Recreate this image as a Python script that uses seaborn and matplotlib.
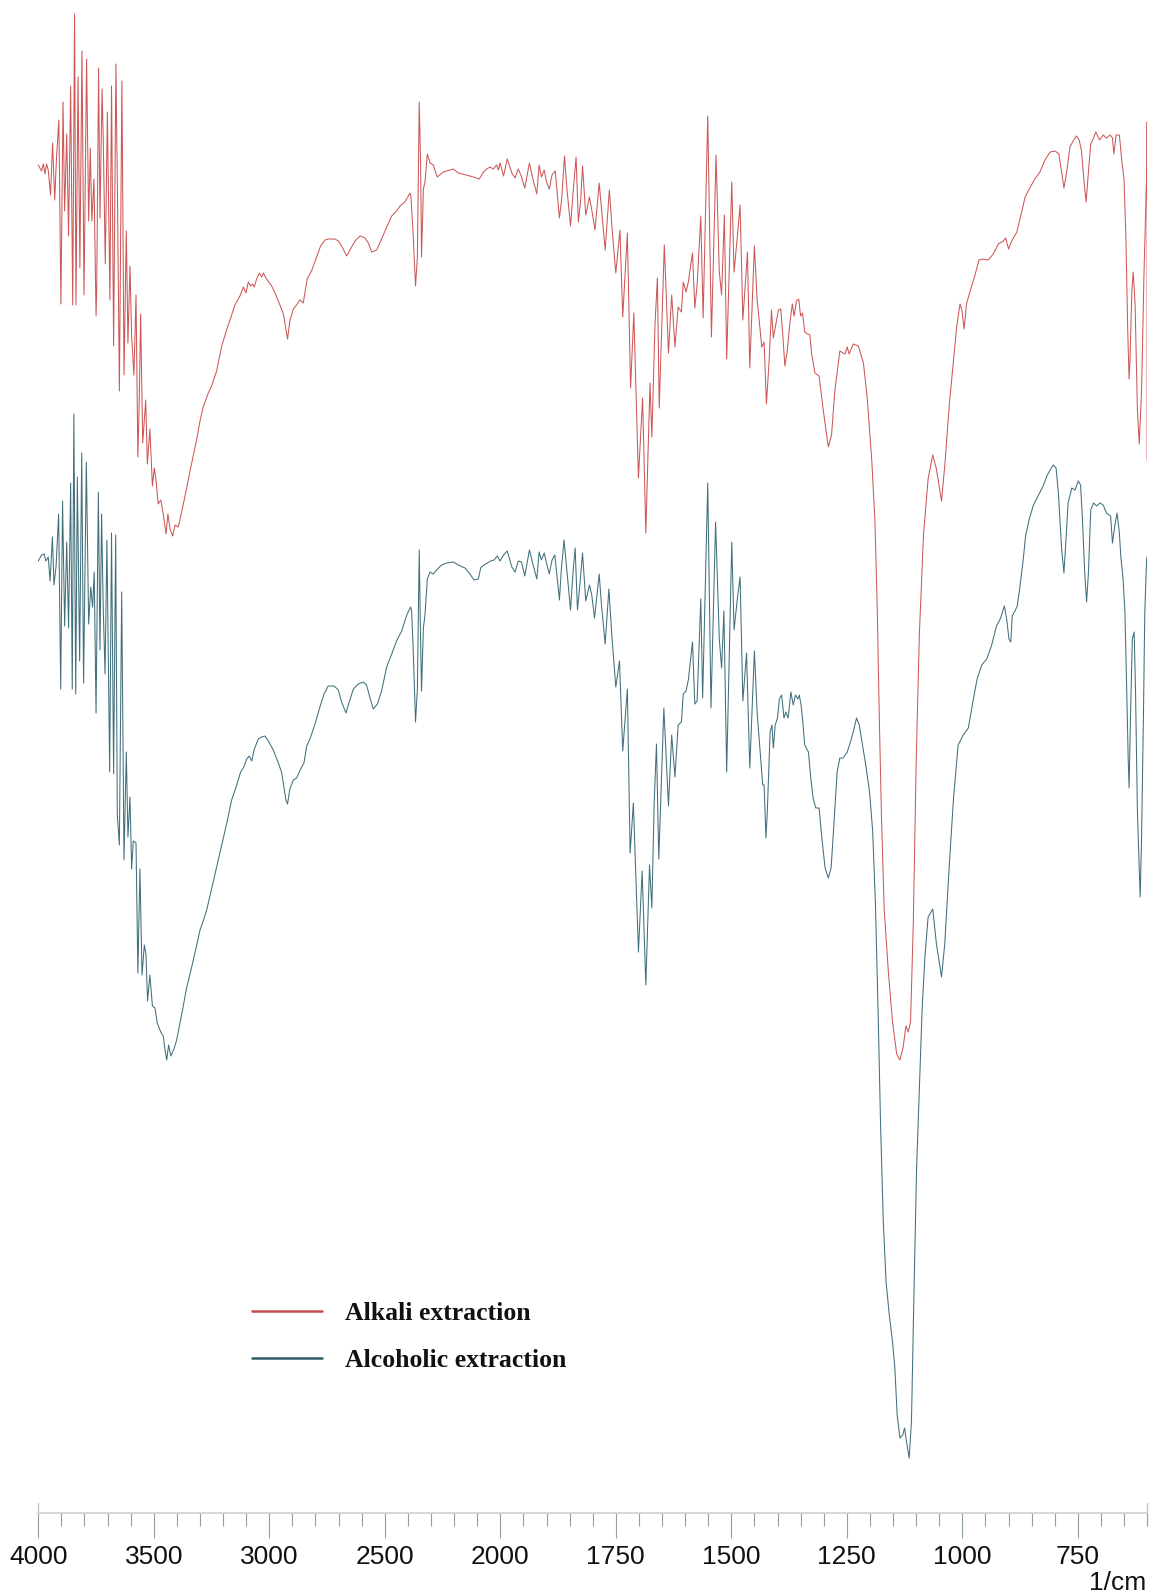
import numpy as np
import pandas as pd
import matplotlib
matplotlib.use("Agg")
import matplotlib.pyplot as plt
import seaborn as sns

# ---------------------------------------------------------------------------
# FTIR spectra: (wavenumber in 1/cm, transmittance in arbitrary stacked units)
# ---------------------------------------------------------------------------
alkali_high = [
    (4000, 135.2), (3986, 134.6), (3978, 135.3), (3971, 134.3), (3964, 135.3),
    (3957, 134.7), (3947, 132.2), (3938, 137.4), (3929, 131.7), (3921, 136.0),
    (3911, 139.7), (3902, 121.3), (3893, 141.5), (3886, 130.6), (3877, 138.3),
    (3869, 128.1), (3860, 143.1), (3851, 121.2), (3843, 150.3), (3837, 121.2),
    (3828, 144.0), (3820, 124.9), (3811, 146.6), (3802, 122.2), (3791, 145.8),
    (3782, 129.6), (3775, 136.9), (3768, 129.6), (3759, 133.8), (3750, 120.1),
    (3747, 123.1), (3739, 144.9), (3733, 129.9), (3724, 142.8), (3719, 138.0),
    (3710, 125.3), (3701, 140.5), (3690, 121.7), (3683, 143.1), (3674, 117.1),
    (3664, 145.3), (3657, 131.7), (3649, 112.6), (3638, 143.6), (3629, 114.2),
    (3619, 128.6), (3612, 117.4), (3603, 125.1), (3596, 118.1), (3586, 114.2),
    (3577, 122.2), (3569, 106.0), (3563, 111.7), (3557, 120.3), (3548, 107.4),
    (3535, 111.7), (3528, 105.3), (3517, 108.8), (3506, 103.1), (3498, 104.9),
    (3491, 103.8), (3481, 101.3), (3470, 101.7), (3459, 100.3), (3447, 98.3),
    (3439, 100.3), (3430, 98.8), (3418, 98.1), (3408, 99.2), (3394, 99.0),
    (3372, 101.3), (3343, 104.6), (3314, 107.8), (3300, 109.6), (3286, 111.0),
    (3264, 112.4), (3250, 113.1), (3228, 114.6), (3206, 117.1), (3185, 118.7),
    (3170, 119.7), (3149, 121.2), (3127, 122.1), (3112, 123.0), (3101, 122.4),
    (3091, 123.5), (3081, 123.1), (3072, 123.3), (3065, 123.0), (3055, 123.8),
    (3043, 124.4), (3033, 124.0), (3026, 124.4), (3012, 123.8), (2990, 123.1),
    (2975, 122.4), (2954, 121.2), (2939, 120.3), (2928, 118.8), (2921, 117.8),
    (2911, 119.6), (2896, 120.8), (2882, 121.2), (2867, 121.7), (2853, 121.4),
    (2846, 122.4), (2836, 123.8), (2817, 124.6), (2795, 126.0), (2778, 127.1),
    (2759, 127.7), (2745, 127.8), (2716, 127.8), (2701, 127.6), (2687, 127.1),
    (2665, 126.1), (2651, 126.7), (2629, 127.6), (2607, 128.1), (2586, 127.9),
    (2571, 127.4), (2557, 126.5), (2535, 126.7), (2514, 127.8), (2492, 129.0),
    (2470, 130.1), (2449, 130.6), (2434, 131.1), (2413, 131.5), (2391, 132.4),
    (2387, 132.1), (2377, 128.1), (2367, 123.1), (2359, 126.0), (2351, 141.5),
    (2345, 135.3), (2341, 126.0), (2333, 132.8), (2326, 133.5), (2316, 136.3),
    (2304, 135.4), (2290, 135.2), (2273, 134.0), (2247, 134.5), (2203, 134.8),
    (2182, 134.4), (2131, 134.1), (2091, 133.8), (2073, 134.5), (2059, 134.8),
    (2045, 135.0), (2030, 134.8), (2016, 135.2), (2008, 134.7), (2001, 135.4),
]

alkali_mid = [
    (1993, 134.1), (1985, 135.8), (1975, 134.4), (1968, 133.9), (1961, 134.8),
    (1954, 134.0), (1947, 132.9), (1937, 135.4), (1930, 133.9), (1921, 132.3),
    (1916, 135.2), (1911, 134.0), (1905, 134.7), (1900, 133.5), (1894, 132.8),
    (1888, 134.2), (1881, 134.6), (1872, 129.9), (1867, 131.9), (1861, 136.1),
    (1856, 132.9), (1848, 129.1), (1842, 132.7), (1836, 136.0), (1831, 129.5),
    (1826, 131.7), (1822, 135.1), (1815, 130.2), (1807, 132.0), (1802, 130.7),
    (1795, 128.7), (1786, 133.4), (1773, 126.7), (1764, 132.7), (1757, 128.2),
    (1750, 124.4), (1741, 128.7), (1735, 120.0), (1725, 128.4), (1718, 112.9),
    (1711, 120.4), (1701, 103.9), (1692, 111.9), (1685, 98.4), (1676, 113.4),
    (1672, 108.0), (1665, 119.4), (1660, 123.9), (1656, 110.9), (1645, 127.2),
    (1636, 116.4), (1629, 122.2), (1622, 117.0), (1615, 121.0), (1608, 120.5),
    (1604, 123.5), (1598, 122.5), (1593, 123.5), (1584, 126.4), (1579, 120.9),
    (1574, 123.2), (1566, 130.1), (1561, 119.9), (1551, 140.1), (1543, 118.0),
    (1533, 136.2), (1526, 124.5), (1521, 122.2), (1515, 130.2), (1510, 115.8),
    (1499, 133.5), (1494, 124.5), (1487, 128.0), (1481, 131.2), (1475, 119.7),
    (1465, 126.5), (1460, 114.9), (1450, 127.1), (1444, 121.7),
]

alkali_low = [
    (1434, 117.0), (1429, 117.5), (1424, 111.3), (1418, 115.7), (1413, 120.7),
    (1409, 117.9), (1398, 120.7), (1393, 120.8), (1389, 118.5), (1384, 115.1),
    (1379, 116.6), (1373, 119.5), (1368, 121.3), (1364, 120.1), (1359, 121.6),
    (1354, 121.8), (1350, 120.1), (1346, 120.4), (1341, 118.5), (1335, 118.3),
    (1330, 118.2), (1326, 116.3), (1319, 114.4), (1310, 114.1), (1301, 110.7),
    (1290, 107.0), (1283, 108.2), (1276, 112.6), (1265, 116.6), (1254, 116.3),
    (1249, 117.0), (1245, 116.3), (1236, 117.3), (1225, 117.1), (1214, 115.4),
    (1206, 112.0), (1196, 105.7), (1189, 99.5), (1184, 90.7), (1180, 80.7),
    (1175, 70.1), (1169, 60.7), (1160, 54.5), (1151, 49.5), (1142, 46.3),
    (1135, 45.7), (1128, 47.0), (1122, 49.1), (1117, 48.5), (1112, 49.5),
    (1106, 59.5), (1100, 75.1), (1093, 88.2), (1084, 98.2), (1074, 103.8),
    (1064, 106.2), (1056, 104.8), (1045, 101.6), (1038, 105.1), (1028, 111.3),
    (1019, 115.7), (1012, 119.1), (1005, 121.3), (1001, 120.7), (996, 118.8),
    (991, 121.3), (983, 122.6), (973, 124.1), (964, 125.7), (955, 125.8),
    (944, 125.7), (933, 126.3), (922, 127.3), (911, 127.6), (906, 127.9),
    (900, 126.8), (893, 127.6), (882, 128.5), (872, 130.4), (864, 132.0),
    (854, 132.9), (843, 133.8), (832, 134.5), (821, 135.7), (810, 136.5),
    (799, 136.6), (791, 136.3), (785, 134.5), (780, 132.9), (774, 134.5),
    (767, 137.0), (760, 137.6), (753, 138.1), (747, 137.7), (742, 136.6),
    (737, 133.8), (732, 131.5), (727, 134.5), (722, 137.3), (716, 137.9),
    (711, 138.5), (703, 137.7), (695, 138.2), (688, 137.9), (680, 138.2),
    (675, 137.9), (672, 136.3), (667, 138.2), (660, 138.2), (655, 135.7),
    (650, 133.8), (646, 128.2), (642, 118.8), (639, 113.8), (637, 115.7),
    (633, 122.6), (630, 124.5), (626, 121.3), (621, 110.7), (617, 107.3),
    (612, 112.6), (607, 123.8), (602, 132.6), (600, 135.1), (600, 139.5),
    (600, 105.7),
]

alcoholic_high = [
    (4000, 95.6), (3986, 96.2), (3975, 96.3), (3967, 95.6), (3957, 96.0),
    (3949, 93.6), (3945, 95.4), (3939, 98.0), (3932, 93.2), (3923, 95.1),
    (3912, 100.3), (3903, 82.8), (3895, 101.6), (3886, 89.1), (3877, 97.5),
    (3869, 88.9), (3860, 103.4), (3853, 82.8), (3846, 110.3), (3838, 82.3),
    (3831, 104.0), (3821, 85.6), (3812, 106.4), (3804, 83.4), (3792, 105.5),
    (3782, 89.3), (3773, 93.0), (3765, 91.0), (3758, 94.5), (3750, 80.4),
    (3740, 102.5), (3733, 86.7), (3726, 100.3), (3719, 91.0), (3711, 84.3),
    (3703, 97.7), (3691, 74.5), (3683, 98.4), (3674, 74.3), (3665, 98.2),
    (3658, 70.2), (3649, 67.2), (3639, 92.5), (3629, 65.7), (3619, 76.5),
    (3612, 68.0), (3603, 72.0), (3596, 64.8), (3589, 67.6), (3577, 67.4),
    (3569, 54.4), (3560, 64.8), (3551, 54.2), (3541, 57.2), (3534, 56.3),
    (3527, 51.6), (3517, 54.2), (3506, 51.1), (3495, 50.9), (3485, 49.4),
    (3470, 48.5), (3459, 48.1), (3452, 46.8), (3444, 45.7), (3436, 47.2),
    (3426, 46.1), (3413, 46.8), (3401, 47.7), (3379, 50.3), (3358, 52.9),
    (3336, 55.0), (3314, 57.2), (3300, 58.7), (3289, 59.4), (3271, 60.7),
    (3250, 62.8), (3228, 65.0), (3206, 67.2), (3185, 69.3), (3163, 71.7),
    (3141, 73.2), (3124, 74.5), (3110, 75.0), (3098, 75.8), (3087, 76.1),
    (3076, 75.6), (3066, 76.7), (3048, 77.8), (3033, 78.0), (3019, 78.1),
    (3004, 77.6), (2983, 76.7), (2961, 75.4), (2947, 74.5), (2937, 73.0),
    (2928, 71.7), (2921, 71.3), (2911, 72.8), (2896, 73.7), (2882, 73.9),
    (2860, 75.0), (2850, 75.4), (2838, 77.1), (2824, 77.8), (2802, 79.3),
    (2781, 81.0), (2763, 82.3), (2745, 83.1), (2720, 83.1), (2701, 82.7),
    (2687, 81.5), (2668, 80.4), (2654, 81.5), (2636, 82.8), (2615, 83.3),
    (2593, 83.5), (2579, 83.2), (2564, 81.9), (2550, 80.8), (2532, 81.3),
    (2514, 82.6), (2492, 85.0), (2470, 86.3), (2449, 87.6), (2427, 88.6),
    (2405, 90.2), (2388, 91.0), (2384, 90.6), (2377, 86.7), (2367, 79.5),
    (2359, 82.8), (2351, 96.7), (2345, 87.6), (2341, 82.6), (2333, 88.9),
    (2326, 90.2), (2316, 93.8), (2304, 94.5), (2290, 94.3), (2276, 94.7),
    (2254, 95.2), (2232, 95.4), (2203, 95.5), (2182, 95.2), (2153, 94.9),
    (2131, 94.3), (2114, 93.7), (2095, 93.8), (2085, 94.9), (2071, 95.2),
    (2056, 95.4), (2042, 95.6), (2027, 95.7), (2013, 96.1), (2001, 95.6),
]

alcoholic_mid = [
    (1993, 96.2), (1985, 96.6), (1975, 95.0), (1968, 94.5), (1961, 95.6),
    (1954, 95.5), (1947, 94.1), (1937, 96.7), (1930, 95.4), (1921, 93.8),
    (1916, 96.5), (1911, 95.7), (1905, 96.4), (1900, 95.4), (1894, 94.3),
    (1888, 95.7), (1882, 96.2), (1872, 91.7), (1868, 94.7), (1862, 97.7),
    (1856, 94.7), (1848, 90.7), (1842, 94.8), (1838, 96.9), (1833, 90.7),
    (1828, 93.1), (1822, 96.4), (1815, 91.6), (1807, 93.2), (1802, 92.2),
    (1796, 89.9), (1786, 94.3), (1781, 91.2), (1773, 87.3), (1765, 92.8),
    (1758, 87.8), (1750, 83.0), (1742, 85.6), (1735, 76.6), (1725, 82.8),
    (1719, 66.4), (1712, 71.4), (1701, 56.5), (1693, 64.6), (1685, 53.2),
    (1677, 65.2), (1672, 60.9), (1667, 71.3), (1662, 77.3), (1657, 65.8),
    (1646, 80.9), (1636, 71.1), (1629, 78.2), (1622, 74.0), (1615, 79.2),
    (1608, 79.5), (1604, 82.3), (1598, 82.6), (1593, 83.7), (1584, 87.5),
    (1579, 81.3), (1574, 81.6), (1566, 91.8), (1562, 81.9), (1551, 103.4),
    (1544, 80.9), (1534, 99.5), (1526, 87.8), (1521, 84.9), (1516, 90.6),
    (1510, 74.5), (1499, 97.5), (1494, 88.7), (1487, 91.8), (1481, 94.0),
    (1475, 81.6), (1467, 86.4), (1460, 74.9), (1450, 86.6), (1444, 80.4),
]

alcoholic_low = [
    (1432, 73.2), (1429, 73.2), (1425, 67.9), (1422, 70.6), (1416, 78.5),
    (1412, 79.2), (1409, 76.9), (1405, 79.2), (1400, 79.9), (1396, 81.8),
    (1391, 82.2), (1386, 79.9), (1382, 80.5), (1377, 79.9), (1371, 82.5),
    (1366, 81.2), (1361, 82.2), (1356, 81.8), (1353, 82.2), (1349, 81.2),
    (1346, 79.9), (1341, 77.2), (1333, 76.5), (1328, 73.9), (1323, 71.9),
    (1317, 70.9), (1310, 70.9), (1304, 67.9), (1297, 64.9), (1290, 63.9),
    (1284, 64.9), (1278, 69.2), (1271, 74.5), (1265, 75.9), (1258, 75.9),
    (1249, 76.5), (1242, 77.5), (1234, 78.9), (1229, 79.9), (1223, 79.2),
    (1216, 77.2), (1209, 75.2), (1201, 72.6), (1194, 68.6), (1188, 61.3),
    (1182, 50.0), (1177, 39.4), (1171, 29.5), (1165, 23.5), (1158, 20.2),
    (1151, 17.5), (1146, 14.9), (1141, 10.2), (1135, 7.9), (1129, 8.2),
    (1125, 8.9), (1121, 7.6), (1115, 5.9), (1110, 9.6), (1105, 21.5),
    (1099, 34.8), (1093, 42.7), (1087, 50.7), (1081, 56.0), (1074, 60.0),
    (1064, 60.8), (1056, 57.3), (1045, 54.0), (1038, 57.3), (1028, 65.3),
    (1019, 71.9), (1009, 77.2), (998, 78.2), (987, 78.9), (976, 81.8),
    (968, 83.8), (958, 85.2), (947, 85.8), (937, 87.1), (926, 89.1),
    (917, 89.9), (909, 91.1), (904, 89.8), (899, 87.8), (895, 87.5),
    (892, 90.1), (886, 90.6), (881, 91.1), (875, 93.1), (868, 95.8),
    (863, 98.1), (855, 99.8), (846, 101.2), (836, 102.1), (825, 103.1),
    (817, 104.1), (810, 104.7), (803, 105.2), (797, 104.9), (792, 102.4),
    (785, 96.8), (780, 94.4), (776, 97.4), (771, 101.4), (763, 102.9),
    (756, 102.7), (749, 103.6), (744, 103.2), (740, 99.8), (735, 94.4),
    (731, 91.5), (727, 94.4), (722, 100.7), (716, 101.4), (709, 101.1),
    (702, 101.4), (695, 101.2), (688, 100.4), (679, 100.1), (675, 97.4),
    (670, 99.1), (665, 100.4), (660, 98.4), (657, 96.1), (652, 93.8),
    (648, 90.5), (644, 82.5), (641, 75.9), (639, 72.9), (636, 79.9),
    (632, 87.8), (628, 88.5), (625, 82.5), (621, 70.6), (615, 62.0),
    (612, 67.9), (608, 79.9), (605, 90.5), (601, 95.8), (600, 96.0),
]

series_labels = ["Alkali extraction", "Alcoholic extraction"]
major_ticks = [4000, 3500, 3000, 2500, 2000, 1750, 1500, 1250, 1000, 750]
minor_ticks = ([w for w in range(3900, 2000, -100) if w % 500]
               + [w for w in range(1950, 599, -50) if w % 250])

# Trace colours and the slightly deeper legend-key colours
RED, RED_KEY = "#cd5757", "#c24d4b"
TEAL, TEAL_KEY = "#41707c", "#2f5b67"


def spectrum_frame(parts, label):
    rows = [p for part in parts for p in part]
    df = pd.DataFrame(rows, columns=["wavenumber", "transmittance"])
    df["sample"] = label
    return df


data = pd.concat([
    spectrum_frame([alkali_high, alkali_mid, alkali_low], series_labels[0]),
    spectrum_frame([alcoholic_high, alcoholic_mid, alcoholic_low], series_labels[1]),
], ignore_index=True)

sns.set_style("white")
plt.rcParams["font.family"] = ["Liberation Sans", "DejaVu Sans"]

W, H = 1154, 1595
fig = plt.figure(figsize=(W / 100, H / 100), dpi=100)
ax = fig.add_axes([38.3 / W, (H - 1513) / H, (1147.1 - 38.3) / W, 1513 / H])

sns.lineplot(data=data, x="wavenumber", y="transmittance", hue="sample",
             palette=[RED, TEAL], hue_order=series_labels,
             estimator=None, sort=False, lw=0.75, ax=ax, legend=False)


# Spectrometer-style axis: 500 cm-1 per division above 2000, 250 below
def _fwd(w):
    w = np.asarray(w, dtype=float)
    return np.where(w >= 2000, w, 2 * w - 2000)


def _inv(u):
    u = np.asarray(u, dtype=float)
    return np.where(u >= 2000, u, (u + 2000) / 2)


ax.set_xscale("function", functions=(_fwd, _inv))
ax.set_xlim(4000, 600)
ax.set_ylim(0.4, 151.7)

ax.set_xticks(major_ticks)
ax.set_xticklabels([str(t) for t in major_ticks])
ax.set_xticks(minor_ticks + [600], minor=True)
ax.set_yticks([])
ax.set_xlabel("")
ax.set_ylabel("")

ax.tick_params(axis="x", which="both", bottom=True)
ax.tick_params(axis="x", which="major", length=18, width=0.8, color="#8fa0aa",
               direction="out", labelsize=19, pad=5, labelcolor="#111111")
ax.tick_params(axis="x", which="minor", length=9.2, width=0.8, color="#8fa0aa",
               direction="out")

ax.spines["top"].set_visible(False)
ax.spines["bottom"].set_color("#cfcfcf")
ax.spines["bottom"].set_linewidth(1.2)
for side in ["left", "right"]:
    ax.spines[side].set_color("#b8c2c8")
    ax.spines[side].set_linewidth(0.9)
    ax.spines[side].set_bounds(0.4, 1.4)

fig.text(1146 / W, (H - 1590) / H, "1/cm", ha="right", va="baseline",
         fontsize=19, color="#111111")

# Legend
handles = [plt.Line2D([], [], color=RED_KEY, lw=1.8),
           plt.Line2D([], [], color=TEAL_KEY, lw=1.8)]
leg = ax.legend(handles, series_labels, loc="center left",
                bbox_to_anchor=(251.7 / W, (H - 1337) / H),
                bbox_transform=fig.transFigure, frameon=False,
                prop={"family": ["Liberation Serif", "DejaVu Serif"],
                      "weight": "bold", "size": 18.5},
                handlelength=2.72, handletextpad=0.9, labelspacing=0.9,
                borderpad=0, borderaxespad=0)
for t in leg.get_texts():
    t.set_color("#111111")

fig.savefig("out.png", dpi=100, facecolor="white")
